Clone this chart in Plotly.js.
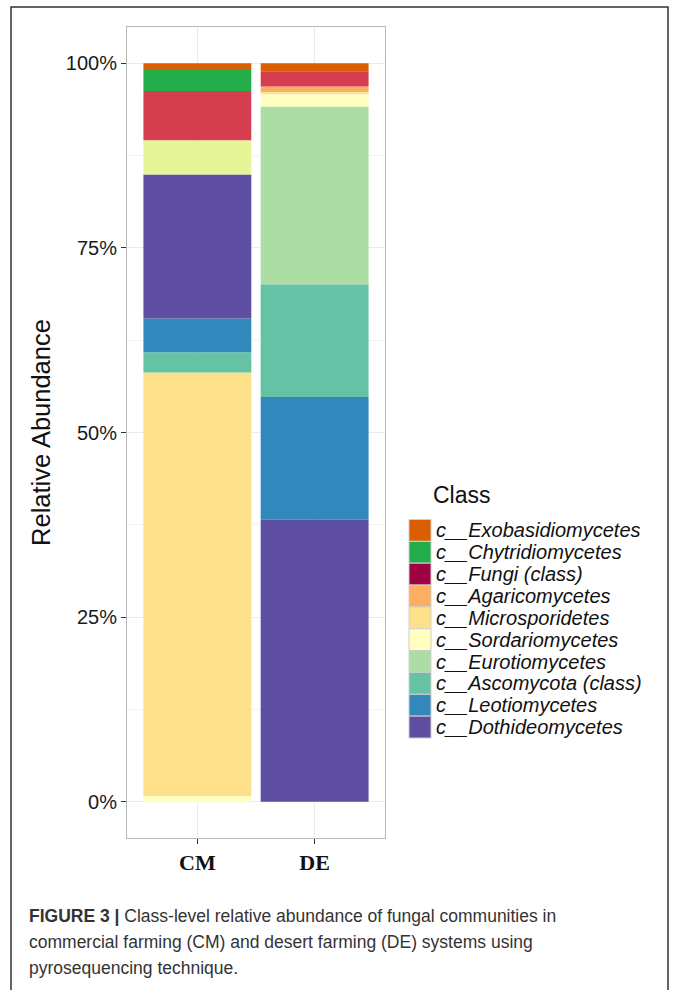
<!DOCTYPE html>
<html>
<head>
<meta charset="utf-8">
<script src="https://cdn.plot.ly/plotly-3.0.1.min.js"></script>
<style>
  html, body { margin: 0; padding: 0; background: #fff; }
  #chart { width: 675px; height: 990px; }
</style>
</head>
<body>
<div id="chart"></div>
<script>
// ---- data (percent relative abundance) ----
const samples = ['CM', 'DE'];
const legendClasses = [
  'c__Exobasidiomycetes', 'c__Chytridiomycetes', 'c__Fungi (class)', 'c__Agaricomycetes',
  'c__Microsporidetes', 'c__Sordariomycetes', 'c__Eurotiomycetes', 'c__Ascomycota (class)',
  'c__Leotiomycetes', 'c__Dothideomycetes'
];
const legendColors = [
  '#d95f02', '#23ad4b', '#9e0142', '#fdae61', '#fee08b', '#ffffbf',
  '#abdda4', '#66c2a5', '#3288bd', '#5e4fa2'
];
// values per class: [CM, DE]
const exobasidiomycetes = [0.77, 1.10];
const chytridiomycetes  = [3.00, 0.00];
const fungiClass        = [0.00, 0.00];
const agaricomycetes    = [0.00, 0.77];
const microsporidetes   = [57.36, 0.30];
const sordariomycetes   = [0.76, 1.67];
const eurotiomycetes    = [0.00, 24.04];
const ascomycotaClass   = [2.75, 15.25];
const leotiomycetes     = [4.56, 16.60];
const dothideomycetes   = [19.50, 38.20];
// classes drawn in the bars but not listed in the (truncated) legend
const unlistedClasses = ['unlisted class (red)', 'unlisted class (yellow-green)'];
const unlistedColors  = ['#d53e4f', '#e6f598'];
const unlistedRed     = [6.70, 2.07];
const unlistedYellow  = [4.60, 0.00];

// stacking order of each bar, bottom to top
const stackCM = ['c__Sordariomycetes', 'c__Microsporidetes', 'c__Ascomycota (class)', 'c__Leotiomycetes',
  'c__Dothideomycetes', 'unlisted class (yellow-green)', 'unlisted class (red)', 'c__Chytridiomycetes',
  'c__Exobasidiomycetes', 'c__Fungi (class)', 'c__Agaricomycetes', 'c__Eurotiomycetes'];
const stackDE = ['c__Dothideomycetes', 'c__Leotiomycetes', 'c__Ascomycota (class)', 'c__Eurotiomycetes',
  'c__Sordariomycetes', 'c__Microsporidetes', 'c__Agaricomycetes', 'unlisted class (red)',
  'c__Exobasidiomycetes', 'c__Fungi (class)', 'c__Chytridiomycetes', 'unlisted class (yellow-green)'];

const yTickVals = [0, 25, 50, 75, 100];
const yTickText = ['0%', '25%', '50%', '75%', '100%'];

const captionLines = [
  '<b>FIGURE 3 |</b> Class-level relative abundance of fungal communities in',
  'commercial farming (CM) and desert farming (DE) systems using',
  'pyrosequencing technique.'
];

// ---- build traces ----
const values = {
  'c__Exobasidiomycetes': exobasidiomycetes,
  'c__Chytridiomycetes': chytridiomycetes,
  'c__Fungi (class)': fungiClass,
  'c__Agaricomycetes': agaricomycetes,
  'c__Microsporidetes': microsporidetes,
  'c__Sordariomycetes': sordariomycetes,
  'c__Eurotiomycetes': eurotiomycetes,
  'c__Ascomycota (class)': ascomycotaClass,
  'c__Leotiomycetes': leotiomycetes,
  'c__Dothideomycetes': dothideomycetes,
  'unlisted class (red)': unlistedRed,
  'unlisted class (yellow-green)': unlistedYellow
};
const stacks = [stackCM, stackDE];
function baseOf(name, i) {
  let b = 0;
  for (const n of stacks[i]) { if (n === name) break; b += values[n][i]; }
  return b;
}
const allNames = legendClasses.concat(unlistedClasses);
const allColors = legendColors.concat(unlistedColors);
const traces = allNames.map((name, k) => ({
  type: 'bar',
  name: name,
  x: samples,
  y: values[name],
  base: samples.map((s, i) => baseOf(name, i)),
  width: 0.92,
  marker: { color: allColors[k], line: { width: 0 } },
  showlegend: false,
  hoverinfo: 'name+y'
}));

// ---- page geometry helpers (pixel -> paper) ----
const M = { l: 127, r: 290, t: 27, b: 152 };
const W = 675, H = 990;
const PW = W - M.l - M.r, PH = H - M.t - M.b;
const px = v => (v - M.l) / PW;
const py = v => (H - M.b - v) / PH;

// legend drawn as swatches + text (ggplot-style tight key boxes)
const legTop = 519.5, legStep = 21.85, keyX0 = 409, keyX1 = 431, textX = 434;
const shapes = [
  { type: 'rect', xref: 'paper', yref: 'paper', x0: px(11), x1: px(668), y0: py(1010), y1: py(7),
    line: { color: '#333', width: 1.5 }, fillcolor: 'rgba(0,0,0,0)', layer: 'above' }
];
const annotations = [
  { xref: 'paper', yref: 'paper', x: px(431), y: py(495), xanchor: 'left', yanchor: 'middle',
    showarrow: false, text: 'Class', font: { size: 23, color: '#111' } }
];
legendClasses.forEach((name, i) => {
  const y0 = legTop + i * legStep;
  shapes.push({ type: 'rect', xref: 'paper', yref: 'paper',
    x0: px(keyX0), x1: px(keyX1), y0: py(y0 + legStep), y1: py(y0),
    fillcolor: legendColors[i], line: { color: '#cfcfcf', width: 1 } });
  annotations.push({ xref: 'paper', yref: 'paper', x: px(textX), y: py(y0 + legStep / 2),
    xanchor: 'left', yanchor: 'middle', showarrow: false, text: name,
    font: { size: 20, style: 'italic', color: '#111' } });
});
const captionY = [916, 942, 968];
captionLines.forEach((line, i) => {
  annotations.push({ xref: 'paper', yref: 'paper', x: px(27), y: py(captionY[i]),
    xanchor: 'left', yanchor: 'middle', showarrow: false, align: 'left', text: line,
    font: { size: 17.5, color: '#333', family: 'Liberation Sans, Arial, sans-serif' } });
});

const layout = {
  width: W, height: H,
  margin: M,
  paper_bgcolor: '#fff', plot_bgcolor: '#fff',
  barmode: 'overlay',
  showlegend: false,
  font: { family: 'Liberation Sans, Arial, sans-serif', color: '#1a1a1a' },
  xaxis: {
    type: 'category', range: [-0.6, 1.6],
    showgrid: true, gridcolor: '#ebebeb', gridwidth: 1,
    showline: true, linecolor: '#b8b8b8', linewidth: 1, mirror: true,
    ticks: 'outside', ticklen: 5, tickcolor: '#333', tickwidth: 1,
    tickfont: { family: 'Liberation Serif, Times New Roman, serif', size: 22, weight: 'bold', color: '#111' },
    zeroline: false, fixedrange: true
  },
  yaxis: {
    range: [-4.9, 104.9],
    tickvals: yTickVals, ticktext: yTickText,
    showgrid: true, gridcolor: '#ebebeb', gridwidth: 1,
    minor: { dtick: 12.5, tick0: 0, showgrid: true, gridcolor: '#f3f3f3', gridwidth: 1, ticks: '' },
    showline: true, linecolor: '#b8b8b8', linewidth: 1, mirror: true,
    ticks: 'outside', ticklen: 5, tickcolor: '#333', tickwidth: 1,
    tickfont: { size: 20, color: '#1a1a1a' },
    zeroline: false, fixedrange: true,
    title: { text: 'Relative Abundance', font: { size: 25.5, color: '#111' }, standoff: 7 }
  },
  shapes: shapes,
  annotations: annotations
};

Plotly.newPlot('chart', traces, layout, { displayModeBar: false, staticPlot: true });
</script>
</body>
</html>
